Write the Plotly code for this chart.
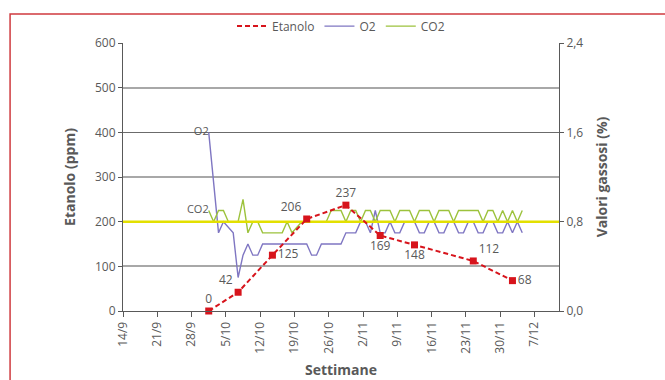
import plotly.graph_objects as go
import pandas as pd

# ---------------- data ----------------
WEEK_TICKS = ["2009-09-14", "2009-09-21", "2009-09-28", "2009-10-05", "2009-10-12",
              "2009-10-19", "2009-10-26", "2009-11-02", "2009-11-09", "2009-11-16",
              "2009-11-23", "2009-11-30", "2009-12-07"]
WEEK_LABELS = ["14/9", "21/9", "28/9", "5/10", "12/10", "19/10", "26/10",
               "2/11", "9/11", "16/11", "23/11", "30/11", "7/12"]

ETH_DATES = ["2009-10-01", "2009-10-07", "2009-10-14", "2009-10-21", "2009-10-29",
             "2009-11-05", "2009-11-12", "2009-11-24", "2009-12-02"]
ETANOLO = [0, 42, 125, 206, 237, 169, 148, 112, 68]
ETH_LABEL_POS = ["top center", "top left", "middle right", "top left", "top center",
                 "bottom center", "bottom center", "top right", "middle right"]

GAS_START = "2009-10-01"
O2 = [1.6, None, 0.7, 0.8, 0.75, 0.7, 0.3, 0.5, 0.6, 0.5, 0.5, 0.6,
      0.6, 0.6, 0.6, 0.6, 0.6, 0.6, 0.6, 0.6, 0.6,
      0.5, 0.5,
      0.6, 0.6, 0.6, 0.6, 0.6,
      0.7, 0.7, 0.7,
      0.8, 0.8, 0.7, 0.9, 0.7, 0.7, 0.8, 0.7, 0.7,
      0.8, 0.8, 0.8, 0.7, 0.7, 0.8, 0.8, 0.7, 0.7,
      0.8, 0.8, 0.7, 0.7, 0.8, 0.8, 0.7, 0.7, 0.8, 0.8, 0.7, 0.7,
      0.8, 0.7, 0.8, 0.7]
CO2 = [0.9, 0.8, 0.9, 0.9, 0.8, 0.8, 0.8, 1.0, 0.7, 0.8, 0.8,
       0.7, 0.7, 0.7, 0.7, 0.7,
       0.8, 0.7, 0.75, 0.8, 0.8,
       0.8, 0.8, 0.8, 0.8,
       0.9, 0.9, 0.9, 0.8, 0.9, 0.9, 0.8, 0.9, 0.9, 0.8,
       0.9, 0.9, 0.9, 0.8, 0.9, 0.9, 0.9, 0.8, 0.9, 0.9, 0.9, 0.8,
       0.9, 0.9, 0.9, 0.8, 0.9, 0.9, 0.9, 0.9, 0.9, 0.8,
       0.9, 0.9, 0.8, 0.9, 0.8, 0.9, 0.8, 0.9]
CO2_REF = 0.8
X_RANGE = ["2009-09-14", "2009-12-12"]

# ---------------- styling ----------------
FONT = "Open Sans"
GREY = "#595959"
RED = "#d7141c"
PURPLE = "#7f76c2"
GREEN = "#9cc23c"
YELLOW = "#e3e000"
DASH = "5px,3px"

noon = pd.Timedelta(hours=12)
eth_x = pd.to_datetime(ETH_DATES) + noon
gas_x = pd.date_range(GAS_START, periods=len(O2), freq="D") + noon

fig = go.Figure()

# legend-only entry for ethanol (dashed line without marker, as in the original legend)
fig.add_trace(go.Scatter(
    x=[None], y=[None], name="Etanolo", yaxis="y2", mode="lines",
    line=dict(color=RED, width=2, dash=DASH),
))
fig.add_trace(go.Scatter(
    x=eth_x, y=ETANOLO, name="Etanolo", yaxis="y2", showlegend=False,
    mode="lines+markers+text",
    line=dict(color=RED, width=2, dash=DASH),
    marker=dict(symbol="square", size=7, color=RED),
    text=[str(v) for v in ETANOLO], textposition=ETH_LABEL_POS,
    textfont=dict(family=FONT, size=12, color=GREY),
    cliponaxis=False,
))
fig.add_trace(go.Scatter(
    x=gas_x, y=O2, name="O2", yaxis="y", connectgaps=True,
    mode="lines+text",
    line=dict(color=PURPLE, width=1.4),
    text=["O2"] + [""] * (len(O2) - 1), textposition="middle left",
    textfont=dict(family=FONT, size=11, color=GREY),
    cliponaxis=False,
))
fig.add_trace(go.Scatter(
    x=gas_x, y=CO2, name="CO2", yaxis="y",
    mode="lines+text",
    line=dict(color=GREEN, width=1.4),
    text=["CO2"] + [""] * (len(CO2) - 1), textposition="middle left",
    textfont=dict(family=FONT, size=11, color=GREY),
    cliponaxis=False,
))
fig.add_trace(go.Scatter(
    x=X_RANGE, y=[CO2_REF, CO2_REF], yaxis="y", mode="lines",
    line=dict(color=YELLOW, width=2.5), showlegend=False, hoverinfo="skip",
))

axis_common = dict(showline=True, linecolor=GREY, linewidth=1, ticks="outside",
                   tickcolor=GREY, ticklen=4, zeroline=False, automargin=False,
                   tickfont=dict(family=FONT, size=12, color=GREY))

fig.update_layout(
    width=665, height=380, autosize=False,
    margin=dict(l=123, r=106, t=43, b=69),
    paper_bgcolor="white", plot_bgcolor="white",
    separators=",.",
    font=dict(family=FONT, color=GREY),
    showlegend=True,
    legend=dict(orientation="h", x=0.5, xanchor="center", y=1.063, yanchor="middle",
                font=dict(family=FONT, size=12, color=GREY), itemwidth=30,
                bgcolor="rgba(0,0,0,0)"),
    xaxis=dict(type="date", range=X_RANGE, tickmode="array", tickvals=WEEK_TICKS,
               ticktext=WEEK_LABELS, tickangle=-90, showgrid=False,
               title=dict(text="<b>Settimane</b>", font=dict(family=FONT, size=14, color=GREY),
                          standoff=12),
               **{**axis_common, "ticklen": 5}),
    yaxis=dict(side="right", range=[0, 2.4], tick0=0, dtick=0.8, tickformat=".1f",
               showgrid=True, gridcolor="#6b6b6b", gridwidth=1,
               minor=dict(dtick=0.4, tick0=0, showgrid=True, gridcolor="#a8a8a8",
                          gridwidth=1.5, ticks=""),
               title=dict(text="<b>Valori gassosi (%)</b>",
                          font=dict(family=FONT, size=14, color=GREY), standoff=14),
               **axis_common),
    yaxis2=dict(side="left", overlaying="y", range=[0, 600], dtick=100, showgrid=False,
                title=dict(text="<b>Etanolo (ppm)</b>",
                           font=dict(family=FONT, size=14, color=GREY), standoff=16),
                **axis_common),
    shapes=[dict(type="rect", xref="paper", yref="paper",
                 x0=-0.259, x1=1.26, y0=-0.28, y1=1.108,
                 line=dict(color="#cf3a3f", width=1.5), fillcolor="rgba(0,0,0,0)",
                 layer="below")],
)

fig.write_html("out.html", config={"displayModeBar": False},
               post_script="document.body.style.margin='0';document.body.style.overflow='hidden';")
